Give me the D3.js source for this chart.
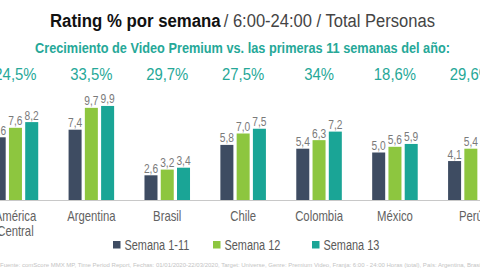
<script src="https://d3js.org/d3.v7.min.js"></script>
<style>
  body { margin: 0; background: #fff; }
  svg { display: block; }
</style>
<div id="container"></div>

<script type="text/javascript">

var width = 480, height = 270;

// data
var paises = ["América Central", "Argentina", "Brasil", "Chile", "Colombia", "México", "Perú"];
var series = ["Semana 1-11", "Semana 12", "Semana 13"];
var semana1_11 = [6.6, 7.4, 2.6, 5.8, 5.4, 5.0, 4.1];
var semana12   = [7.6, 9.7, 3.2, 7.0, 6.3, 5.6, 5.4];
var semana13   = [8.2, 9.9, 3.4, 7.5, 7.2, 5.9, 5.3];
var crecimiento = ["24,5%", "33,5%", "29,7%", "27,5%", "34%", "18,6%", "29,6%"];

var colores = ["#3e4c62", "#8dc63f", "#1aa596"];
var teal = "#26a898";
var font = "'Liberation Sans', Arial, sans-serif";

var rows = paises.map((p, i) => ({
  pais: p,
  vals: [semana1_11[i], semana12[i], semana13[i]],
  pct: crecimiento[i]
}));

// no condensed face installed, so squeeze the glyphs by hand
function squeeze(sel, k) {
  sel.each(function() {
    var len = this.getComputedTextLength();
    d3.select(this).attr('textLength', len * k).attr('lengthAdjust', 'spacingAndGlyphs');
  });
}

var svg = d3.select('#container')
  .append('svg')
  .attr('width', width)
  .attr('height', height)
  .style('font-family', font);

var baseY = 200;

var x0 = d3.scaleBand()
  .domain(paises)
  .range([-22.5, 508.8])
  .paddingInner(0.4)
  .paddingOuter(0.2);

var x1 = d3.scaleBand()
  .domain(series)
  .range([0, x0.bandwidth()])
  .paddingInner(0.2)
  .paddingOuter(0);

var y = d3.scaleLinear()
  .domain([0, 10])
  .range([baseY, 105]);

// title: two separate texts laid side by side, total width 385
var t1 = svg.append('text').attr('y', 27).style('font-size', '18px')
  .attr('font-weight', 'bold').attr('fill', '#111').text('Rating % por semana');
var t2 = svg.append('text').attr('y', 27).style('font-size', '18px')
  .attr('fill', '#444').text(' / 6:00-24:00 / Total Personas');
var l1 = t1.node().getComputedTextLength(), l2 = t2.node().getComputedTextLength();
var kt = 385 / (l1 + l2);
t1.attr('x', 50).attr('textLength', l1 * kt).attr('lengthAdjust', 'spacingAndGlyphs');
t2.attr('x', 50 + l1 * kt + 3).attr('textLength', l2 * kt - 3).attr('lengthAdjust', 'spacingAndGlyphs');

svg.append('text')
  .attr('x', 35).attr('y', 53)
  .attr('fill', teal)
  .attr('font-weight', 'bold')
  .style('font-size', '14.5px')
  .attr('textLength', 415).attr('lengthAdjust', 'spacingAndGlyphs')
  .text('Crecimiento de Video Premium vs. las primeras 11 semanas del año:');

// baseline
svg.append('line')
  .attr('x1', 0).attr('x2', width)
  .attr('y1', baseY + 0.5).attr('y2', baseY + 0.5)
  .attr('stroke', '#c8c8c8').attr('stroke-width', 1);

var groups = svg.selectAll('g.grupo')
  .data(rows)
  .enter()
  .append('g')
  .attr('class', 'grupo')
  .attr('transform', d => 'translate(' + x0(d.pais) + ',0)');

groups.selectAll('rect')
  .data(d => d.vals.map((v, j) => ({ s: series[j], v: v, j: j })))
  .enter()
  .append('rect')
  .attr('x', d => x1(d.s))
  .attr('width', x1.bandwidth())
  .attr('y', d => y(d.v))
  .attr('height', d => baseY - y(d.v))
  .attr('fill', d => colores[d.j]);

var vals = groups.selectAll('text.valor')
  .data(d => d.vals.map((v, j) => ({ s: series[j], v: v })))
  .enter()
  .append('text')
  .attr('class', 'valor')
  .attr('x', d => x1(d.s) + x1.bandwidth() / 2)
  .attr('y', d => y(d.v) - 2.5)
  .attr('text-anchor', 'middle')
  .attr('fill', '#7a7a7a')
  .style('font-size', '12px')
  .text(d => d.v.toFixed(1).replace('.', ','));
squeeze(vals, 0.85);

var pcts = groups.append('text')
  .attr('x', x0.bandwidth() / 2)
  .attr('y', 80)
  .attr('text-anchor', 'middle')
  .attr('fill', teal)
  .style('font-size', '16px')
  .text(d => d.pct);
squeeze(pcts, 0.93);

// category labels
groups.append('text')
  .attr('x', x0.bandwidth() / 2)
  .attr('y', 221)
  .attr('text-anchor', 'middle')
  .attr('fill', '#626262')
  .style('font-size', '14.5px')
  .each(function(d) {
    var parts = d.pais.split(' ');
    var t = d3.select(this);
    parts.forEach((p, k) => {
      t.append('tspan')
        .attr('x', x0.bandwidth() / 2)
        .attr('dy', k === 0 ? 0 : 14.5)
        .text(p);
    });
  });
squeeze(groups.selectAll('tspan'), 0.78);

// legend
var legX = [113, 213, 312];
var leg = svg.selectAll('g.leg')
  .data(series)
  .enter()
  .append('g')
  .attr('class', 'leg')
  .attr('transform', (d, i) => 'translate(' + legX[i] + ',241)');
leg.append('rect')
  .attr('width', 7.5).attr('height', 7.5)
  .attr('fill', (d, i) => colores[i]);
var legT = leg.append('text')
  .attr('x', 11.5).attr('y', 8.5)
  .attr('fill', '#5a5a5a')
  .style('font-size', '14px')
  .text(d => d);
squeeze(legT, 0.78);

// footer
svg.append('text')
  .attr('x', 0).attr('y', 267)
  .attr('fill', '#c4c4c4')
  .style('font-size', '6px')
  .text('Fuente: comScore MMX MP, Time Period Report, Fechas: 01/01/2020-22/03/2020, Target: Universe, Genre: Premium Video, Franja: 6:00 - 24:00 Horas (total), País: Argentina, Brasil, Chile');

</script>
